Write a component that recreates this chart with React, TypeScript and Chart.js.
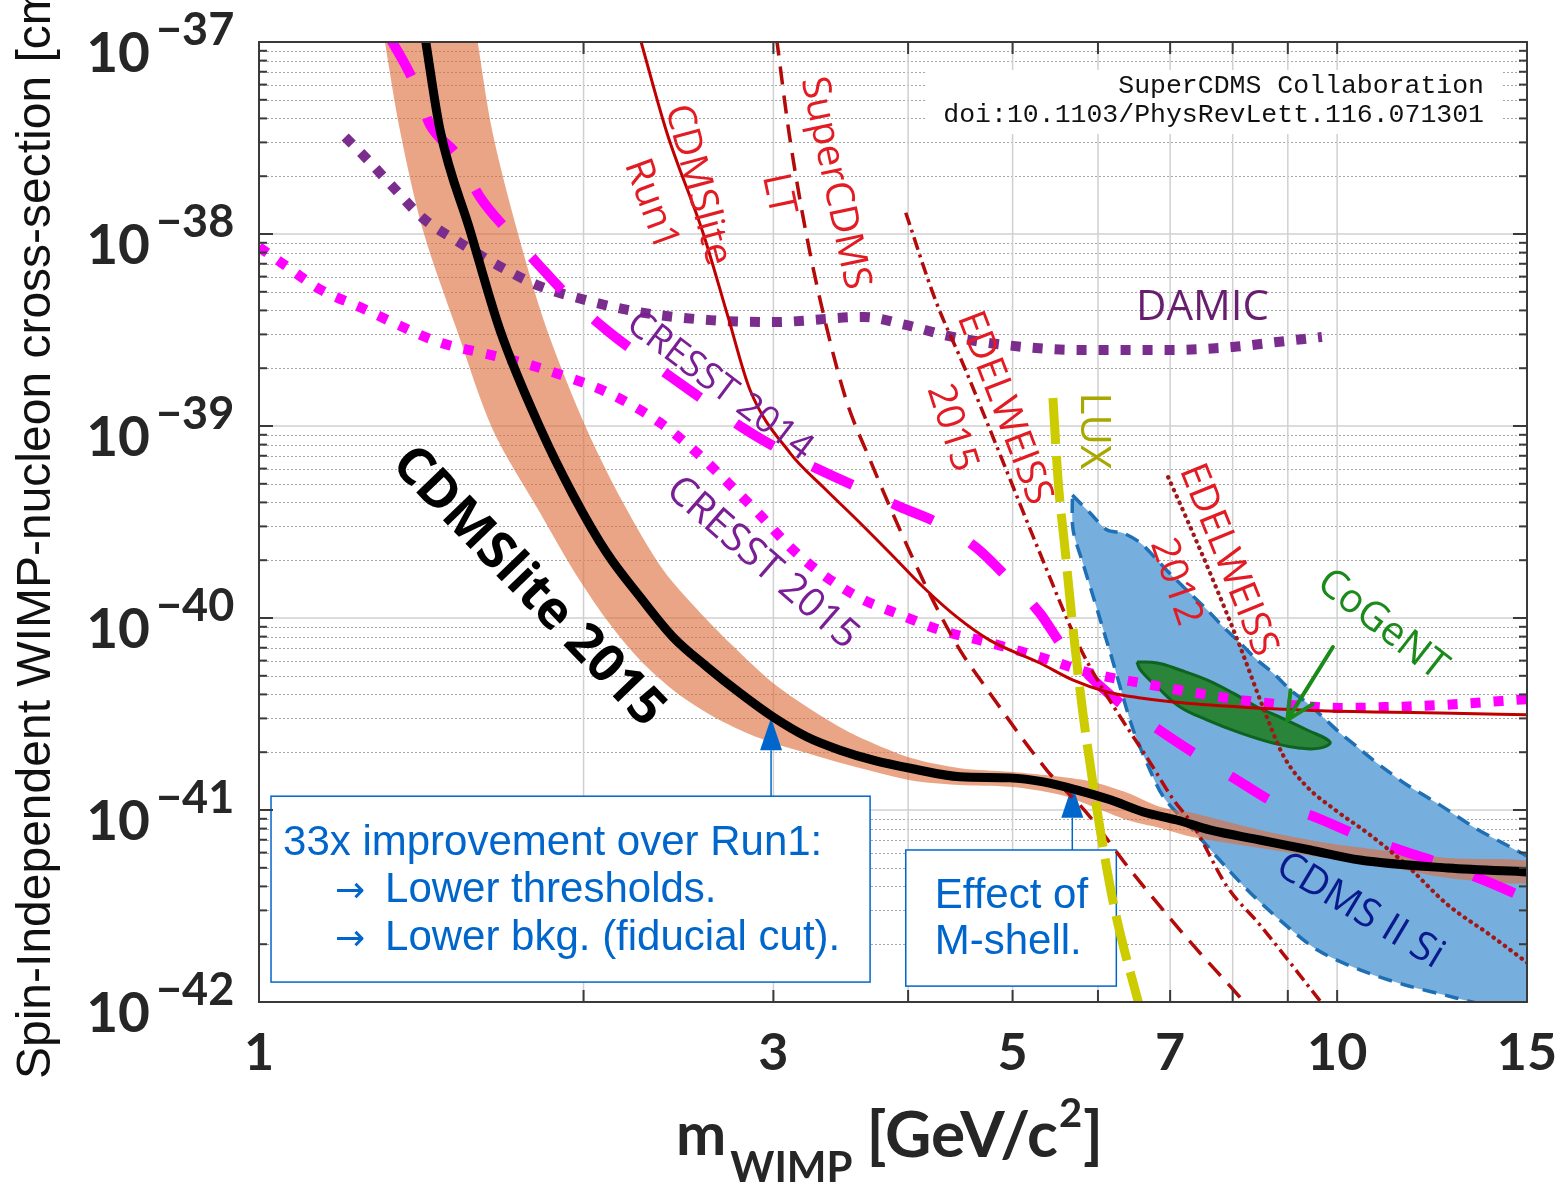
import React, { useEffect, useRef } from "react";
import { Chart, registerables } from "chart.js";

Chart.register(...registerables);

// ================= DATA =================
// x: WIMP mass [GeV/c^2], y: spin-independent WIMP-nucleon cross-section [cm^2]

const cdmslite2015Mass = [1.426, 1.472, 1.569, 1.673, 1.823, 1.956, 2.102, 2.256, 2.421, 2.604, 2.794, 2.998, 3.224, 3.459, 3.712, 4.018, 4.469, 4.97, 5.338, 5.74, 6.16, 6.61, 7.1, 7.62, 8.48, 9.44, 10.5, 12.67, 15.1];
const cdmslite2015Sigma = [1.05e-37, 3.48e-38, 1.05e-38, 3.16e-39, 9.76e-40, 4.37e-40, 2.18e-40, 1.29e-40, 7.96e-41, 5.56e-41, 4.06e-41, 3.05e-41, 2.4e-41, 2.05e-41, 1.82e-41, 1.65e-41, 1.49e-41, 1.47e-41, 1.4e-41, 1.27e-41, 1.13e-41, 9.76e-42, 8.87e-42, 7.87e-42, 6.98e-42, 6.19e-42, 5.49e-42, 4.99e-42, 4.75e-42];

const bandUpperMass = [1.589, 1.645, 1.735, 1.85, 2.015, 2.177, 2.371, 2.604, 2.794, 2.998, 3.224, 3.459, 3.649, 4.018, 4.469, 4.97, 5.534, 5.938, 6.387, 6.85, 7.35, 8.48, 9.79, 10.96, 12.67, 15.4];
const bandUpperSigma = [1.155e-37, 3.48e-38, 1.05e-38, 3.16e-39, 9.53e-40, 3.97e-40, 1.78e-40, 9.76e-41, 6.58e-41, 4.59e-41, 3.44e-41, 2.7e-41, 2.32e-41, 1.87e-41, 1.65e-41, 1.58e-41, 1.49e-41, 1.4e-41, 1.23e-41, 1.04e-41, 9.64e-42, 7.87e-42, 6.73e-42, 6.19e-42, 5.62e-42, 5.3e-42];
const bandLowerMass = [1.303, 1.351, 1.419, 1.526, 1.648, 1.823, 1.956, 2.102, 2.256, 2.421, 2.604, 2.794, 2.998, 3.224, 3.459, 4.018, 4.469, 4.97, 5.534, 5.938, 6.387, 6.85, 7.35, 8.48, 9.79, 10.96, 12.67, 15.4];
const bandLowerSigma = [1.155e-37, 3.48e-38, 1.05e-38, 3.16e-39, 9.53e-40, 3.52e-40, 1.78e-40, 9.76e-41, 6.04e-41, 4.22e-41, 3.2e-41, 2.61e-41, 2.23e-41, 1.98e-41, 1.76e-41, 1.43e-41, 1.35e-41, 1.32e-41, 1.2e-41, 1.04e-41, 8.87e-42, 8.06e-42, 7.23e-42, 6.34e-42, 5.62e-42, 5.17e-42, 4.43e-42, 4.2e-42];

const run1Mass = [2.256, 2.39, 2.582, 2.723, 2.854, 3.109, 3.336, 3.587, 3.848, 4.13, 4.44, 4.76, 5.3, 5.69, 6.12, 6.57, 7.05, 8.13, 9.38, 10.8, 12.46, 15.1];
const run1Sigma = [1.05e-37, 3.36e-38, 1.01e-38, 3.7e-39, 1.54e-39, 7.23e-40, 4.81e-40, 3.24e-40, 2.18e-40, 1.45e-40, 1.01e-40, 7.67e-41, 5.83e-41, 4.75e-41, 4.12e-41, 3.83e-41, 3.65e-41, 3.44e-41, 3.31e-41, 3.24e-41, 3.2e-41, 3.13e-41];

const superCdmsLtMass = [3.02, 3.102, 3.217, 3.343, 3.504, 3.688, 3.932, 4.193, 4.469, 4.69, 5.38, 5.86, 6.43, 7.24, 8.16, 8.4];
const superCdmsLtSigma = [1.05e-37, 3.36e-38, 1.01e-38, 3.7e-39, 1.37e-39, 6.65e-40, 2.87e-40, 1.32e-40, 6.8e-41, 4.59e-41, 1.61e-41, 9.64e-42, 4.87e-42, 2.18e-42, 1.03e-42, 8.5e-43];

const edelweiss2015Mass = [3.98, 4.24, 4.51, 4.87, 5.3, 5.77, 6.07, 6.71, 7.05, 7.35, 7.91, 8.48, 9.66, 9.96];
const edelweiss2015Sigma = [1.29e-38, 4.53e-39, 2.03e-39, 7.06e-40, 2.18e-40, 7.06e-41, 4.22e-41, 1.76e-41, 1.13e-41, 8.35e-42, 3.97e-42, 2.52e-42, 1.0e-42, 8.06e-43];

const edelweiss2012Mass = [6.97, 7.26, 7.67, 8.13, 8.52, 8.91, 9.34, 9.96, 10.73, 11.54, 12.67, 13.87, 15.1];
const edelweiss2012Sigma = [5.42e-40, 3.24e-40, 1.58e-40, 7.06e-41, 3.52e-41, 1.93e-41, 1.35e-41, 1.0e-41, 7.41e-42, 5.3e-42, 3.2e-42, 2.23e-42, 1.56e-42];

const luxMass = [5.45, 5.51, 5.59, 5.69, 5.81, 5.93, 6.05, 6.22, 6.54, 6.59];
const luxSigma = [1.4e-39, 5.23e-40, 2.34e-40, 8.66e-41, 3.2e-41, 1.43e-41, 6.98e-42, 3.01e-42, 1.0e-42, 8.56e-43];

const damicMass = [1.202, 1.249, 1.331, 1.419, 1.537, 1.663, 1.811, 1.976, 2.251, 2.621, 3.004, 3.64, 3.98, 4.4, 5.12, 5.75, 6.96, 8.01, 8.8, 9.68];
const damicSigma = [3.2e-38, 2.58e-38, 1.76e-38, 1.21e-38, 8.98e-39, 6.9e-39, 5.42e-39, 4.64e-39, 3.92e-39, 3.56e-39, 3.48e-39, 3.7e-39, 3.36e-39, 2.91e-39, 2.58e-39, 2.49e-39, 2.49e-39, 2.58e-39, 2.74e-39, 2.91e-39];

const cresst2014Mass = [1.323, 1.389, 1.441, 1.526, 1.603, 1.698, 1.811, 1.922, 2.117, 2.411, 2.582, 2.812, 3.023, 3.314, 3.587, 3.932, 4.26, 4.63, 4.94, 5.3, 5.57, 6.16, 6.9, 7.46, 8.08, 8.76, 9.58, 10.44, 11.44, 12.43, 13.66, 15.0];
const cresst2014Sigma = [1.05e-37, 6.34e-38, 3.7e-38, 2.58e-38, 1.56e-38, 1.05e-38, 7.06e-39, 4.93e-39, 3.05e-39, 1.8e-39, 1.37e-39, 9.76e-40, 7.67e-40, 5.9e-40, 4.81e-40, 3.79e-40, 3.13e-40, 2.32e-40, 1.63e-40, 1.06e-40, 7.06e-41, 3.97e-41, 2.52e-41, 1.89e-41, 1.43e-41, 1.09e-41, 9.1e-42, 7.41e-42, 6.19e-42, 5.3e-42, 4.32e-42, 3.45e-42];

const cresst2015Mass = [1.0, 1.05, 1.142, 1.241, 1.346, 1.466, 1.61, 1.758, 1.931, 2.102, 2.355, 2.549, 2.735, 2.916, 3.109, 3.336, 3.61, 3.932, 4.28, 4.73, 5.3, 5.9, 6.57, 7.3, 8.13, 9.05, 10.06, 11.2, 12.46, 15.1];
const cresst2015Sigma = [8.55e-39, 7.06e-39, 5.11e-39, 4.16e-39, 3.36e-39, 2.74e-39, 2.4e-39, 2.13e-39, 1.8e-39, 1.5e-39, 1.04e-39, 7.23e-40, 4.93e-40, 3.44e-40, 2.34e-40, 1.68e-40, 1.27e-40, 1.04e-40, 8.66e-41, 7.5e-41, 6.27e-41, 5.17e-41, 4.59e-41, 4.12e-41, 3.74e-41, 3.52e-41, 3.4e-41, 3.44e-41, 3.52e-41, 3.79e-41];

// CDMS II Si contour (closed)
const cdmsSiMass = [5.68, 5.9, 6.12, 6.33, 6.57, 6.81, 7.05, 7.3, 7.58, 7.84, 8.13, 8.43, 8.72, 9.05, 9.38, 9.7, 10.06, 10.44, 10.8, 11.2, 11.61, 12.46, 13.43, 14.47, 15.6, 16.45, 16.45, 14.17, 12.89, 11.54, 10.5, 9.58, 8.85, 8.31, 7.87, 7.35, 6.9, 6.66, 6.47, 6.33, 6.2, 6.07, 5.94, 5.81, 5.69, 5.68];
const cdmsSiSigma = [4.37e-40, 3.52e-40, 2.87e-40, 2.77e-40, 2.46e-40, 2.0e-40, 1.63e-40, 1.35e-40, 1.1e-40, 8.98e-41, 7.41e-41, 6.04e-41, 5.17e-41, 4.22e-41, 3.61e-41, 3.05e-41, 2.52e-41, 2.13e-41, 1.82e-41, 1.56e-41, 1.35e-41, 1.06e-41, 8.06e-42, 6.42e-42, 5.11e-42, 4.32e-42, 6.34e-43, 9.08e-43, 1.05e-42, 1.23e-42, 1.47e-42, 1.87e-42, 2.67e-42, 3.7e-42, 5.11e-42, 7.87e-42, 1.17e-41, 1.76e-41, 2.61e-41, 3.88e-41, 5.83e-41, 8.66e-41, 1.29e-40, 1.93e-40, 2.87e-40, 4.37e-40];

// CoGeNT contour (closed)
const cogentMass = [6.52, 6.81, 7.15, 7.58, 8.01, 8.43, 8.85, 9.38, 9.85, 9.64, 9.24, 8.72, 8.13, 7.58, 7.15, 6.81, 6.57, 6.52];
const cogentSigma = [5.9e-41, 5.83e-41, 5.36e-41, 4.75e-41, 4.06e-41, 3.44e-41, 3.05e-41, 2.61e-41, 2.26e-41, 2.1e-41, 2.1e-41, 2.23e-41, 2.52e-41, 2.94e-41, 3.44e-41, 4.37e-41, 5.36e-41, 5.9e-41];

// Axis ticks
const xTickValues = [1, 3, 5, 7, 10, 15];
const xTickLabels = ["1", "3", "5", "7", "10", "15"];
const xGridValues = [2, 3, 4, 5, 6, 7, 8, 9, 10];
const yDecadeExponents = [-37, -38, -39, -40, -41, -42];
const yMinorMantissas = [2, 3, 4, 5, 6, 7, 8, 9];

// ================= ANNOTATIONS =================
const RED = "#E31B23";
const BLUE = "#0066CC";

const curveLabels = [
  { text: "CDMSlite 2015", mass: 1.776, sigma: 1.45e-40, angle: 46, color: "#000000", font: "bold 52px 'Open Sans'" },
  { text: "CDMSlite", mass: 2.551, sigma: 1.8e-38, angle: 75, color: RED, font: "39px 'Open Sans'" },
  { text: "Run1", mass: 2.31, sigma: 1.42e-38, angle: 70, color: RED, font: "39px 'Open Sans'" },
  { text: "SuperCDMS", mass: 3.42, sigma: 1.84e-38, angle: 78, color: RED, font: "39px 'Open Sans'" },
  { text: "LT", mass: 3.03, sigma: 1.61e-38, angle: 78, color: RED, font: "39px 'Open Sans'" },
  { text: "EDELWEISS", mass: 4.91, sigma: 1.24e-39, angle: 69, color: RED, font: "39px 'Open Sans'" },
  { text: "2015", mass: 4.39, sigma: 9.76e-40, angle: 72, color: RED, font: "39px 'Open Sans'" },
  { text: "EDELWEISS", mass: 7.92, sigma: 2.0e-40, angle: 68, color: RED, font: "39px 'Open Sans'" },
  { text: "2012", mass: 7.08, sigma: 1.54e-40, angle: 71, color: RED, font: "39px 'Open Sans'" },
  { text: "LUX", mass: 5.94, sigma: 9.42e-40, angle: 90, color: "#A8A800", font: "42px 'Open Sans'" },
  { text: "DAMIC", mass: 7.5, sigma: 4.12e-39, angle: 0, color: "#681E6E", font: "42px 'Open Sans'" },
  { text: "CRESST 2014", mass: 2.674, sigma: 1.61e-39, angle: 37, color: "#7A1E96", font: "37px 'Open Sans'" },
  { text: "CRESST 2015", mass: 2.929, sigma: 1.93e-40, angle: 41, color: "#7A1E96", font: "40px 'Open Sans'" },
  { text: "CoGeNT", mass: 11.01, sigma: 9.2e-41, angle: 38, color: "#1A8A1A", font: "40px 'Open Sans'" },
  { text: "CDMS II Si", mass: 10.5, sigma: 2.98e-42, angle: 31, color: "#0A1A8C", font: "40px 'Open Sans'" },
];

const noteBoxes = [
  {
    x0: 1.026, x1: 3.688, yTop: 1.18e-41, yBottom: 1.27e-42,
    arrowMass: 2.985, arrowTip: 3.01e-41, headBase: 2.05e-41,
    lines: [
      { dx: 12, dy: 59, text: "33x improvement over Run1:", small: false },
      { dx: 64, dy: 106, text: "→", small: true },
      { dx: 114, dy: 106, text: "Lower thresholds.", small: false },
      { dx: 64, dy: 154, text: "→", small: true },
      { dx: 114, dy: 154, text: "Lower bkg. (fiducial cut).", small: false },
    ],
  },
  {
    x0: 3.98, x1: 6.24, yTop: 6.19e-42, yBottom: 1.21e-42,
    arrowMass: 5.68, arrowTip: 1.35e-41, headBase: 9.1e-42,
    lines: [
      { dx: 29, dy: 58, text: "Effect of", small: false },
      { dx: 29, dy: 104, text: "M-shell.", small: false },
    ],
  },
];

const cogentArrow = { fromMass: 9.91, fromSigma: 7.06e-41, toMass: 8.99, toSigma: 2.94e-41 };

// ================= HELPERS =================
const zip = (xs: number[], ys: number[]) => xs.map((x, i) => ({ x, y: ys[i] }));

const curve = (label: string, xs: number[], ys: number[], extra: any) => ({
  label,
  data: zip(xs, ys),
  pointRadius: 0,
  pointHoverRadius: 0,
  clip: 0,
  fill: false,
  cubicInterpolationMode: "monotone",
  borderCapStyle: "butt",
  ...extra,
});

const BAND_LABEL = "CDMSlite 2015 band";

const decorPlugin = {
  id: "decor",
  beforeDatasetsDraw(chart: any) {
    const { ctx, chartArea: a, scales } = chart;
    const xs = scales.x;
    const ys = scales.y;
    const X = (v: number) => xs.getPixelForValue(v);
    const Y = (v: number) => ys.getPixelForValue(v);
    ctx.save();
    const hline = (p: number) => {
      ctx.beginPath();
      ctx.moveTo(a.left, p);
      ctx.lineTo(a.right, p);
      ctx.stroke();
    };
    const seg = (x1: number, y1: number, x2: number, y2: number) => {
      ctx.beginPath();
      ctx.moveTo(x1, y1);
      ctx.lineTo(x2, y2);
      ctx.stroke();
    };
    // minor dotted horizontal lines
    ctx.lineWidth = 1;
    ctx.strokeStyle = "rgba(150,150,150,0.85)";
    ctx.setLineDash([2, 2]);
    for (let e = -42; e < -37; e++) {
      for (const m of yMinorMantissas) {
        hline(Math.round(Y(m * Math.pow(10, e))) + 0.5);
      }
    }
    ctx.setLineDash([]);
    // major horizontal lines
    ctx.strokeStyle = "rgb(208,208,208)";
    ctx.lineWidth = 1.5;
    for (const e of yDecadeExponents) hline(Y(Math.pow(10, e)));
    // vertical lines
    for (const v of xGridValues) seg(X(v), a.top, X(v), a.bottom);

    // citation box
    const bx0 = a.right - 601;
    const bx1 = a.right - 24;
    ctx.fillStyle = "#ffffff";
    ctx.fillRect(bx0, a.top + 28, bx1 - bx0, 64);
    ctx.fillStyle = "#111111";
    ctx.font = "26.5px 'Liberation Mono'";
    ctx.textAlign = "right";
    ctx.textBaseline = "alphabetic";
    ctx.fillText("SuperCDMS Collaboration", a.right - 43, a.top + 51);
    ctx.fillText("doi:10.1103/PhysRevLett.116.071301", a.right - 43, a.top + 80);

    // annotation boxes
    for (const b of noteBoxes) {
      const l = X(b.x0), r = X(b.x1), t = Y(b.yTop), bt = Y(b.yBottom);
      ctx.fillStyle = "#ffffff";
      ctx.fillRect(l, t, r - l, bt - t);
      ctx.strokeStyle = BLUE;
      ctx.lineWidth = 1.5;
      ctx.strokeRect(l, t, r - l, bt - t);
      ctx.fillStyle = BLUE;
      ctx.textAlign = "left";
      ctx.textBaseline = "alphabetic";
      for (const ln of b.lines) {
        ctx.font = ln.small ? "36px 'DejaVu Sans'" : "42px 'Liberation Sans'";
        ctx.fillText(ln.text, l + ln.dx, t + ln.dy);
      }
    }
    ctx.restore();
  },
  afterDatasetDraw(chart: any, args: any) {
    // arrows of the annotation boxes, drawn right after the uncertainty band
    if (!args || !args.meta || args.meta.label !== BAND_LABEL) return;
    const { ctx, scales } = chart;
    const X = (v: number) => scales.x.getPixelForValue(v);
    const Y = (v: number) => scales.y.getPixelForValue(v);
    ctx.save();
    for (const b of noteBoxes) {
      const t = Y(b.yTop);
      const ax = X(b.arrowMass);
      const tip = Y(b.arrowTip);
      const base = Y(b.headBase);
      ctx.strokeStyle = BLUE;
      ctx.lineWidth = 1.5;
      ctx.beginPath();
      ctx.moveTo(ax, t);
      ctx.lineTo(ax, base);
      ctx.stroke();
      ctx.fillStyle = BLUE;
      ctx.beginPath();
      ctx.moveTo(ax, tip);
      ctx.lineTo(ax - 11, base);
      ctx.lineTo(ax + 11, base);
      ctx.closePath();
      ctx.fill();
    }
    ctx.restore();
  },
  afterDatasetsDraw(chart: any) {
    const { ctx, chartArea: a, scales } = chart;
    const xs = scales.x;
    const ys = scales.y;
    const X = (v: number) => xs.getPixelForValue(v);
    const Y = (v: number) => ys.getPixelForValue(v);
    ctx.save();
    const seg = (x1: number, y1: number, x2: number, y2: number) => {
      ctx.beginPath();
      ctx.moveTo(x1, y1);
      ctx.lineTo(x2, y2);
      ctx.stroke();
    };

    // frame
    ctx.strokeStyle = "#3a3a3a";
    ctx.lineWidth = 2;
    ctx.strokeRect(a.left, a.top, a.right - a.left, a.bottom - a.top);
    for (const e of yDecadeExponents) {
      const p = Y(Math.pow(10, e));
      seg(a.left, p, a.left + 14, p);
      seg(a.right - 14, p, a.right, p);
    }
    for (let e = -42; e < -37; e++) {
      for (const m of yMinorMantissas) {
        const p = Y(m * Math.pow(10, e));
        seg(a.left, p, a.left + 8, p);
        seg(a.right - 8, p, a.right, p);
      }
    }
    for (const v of xGridValues) {
      const p = X(v);
      seg(p, a.top, p, a.top + 12);
      seg(p, a.bottom - 12, p, a.bottom);
    }

    // tick labels
    ctx.fillStyle = "#262626";
    ctx.textBaseline = "alphabetic";
    ctx.font = "bold 52px Lato";
    ctx.textAlign = "center";
    xTickValues.forEach((v, i) => ctx.fillText(xTickLabels[i], X(v), a.bottom + 68));
    for (const e of yDecadeExponents) {
      const p = Y(Math.pow(10, e));
      ctx.font = "bold 55px Lato";
      ctx.textAlign = "right";
      ctx.fillText("10", a.left - 109, p + 30);
      ctx.font = "bold 45px Lato";
      ctx.textAlign = "left";
      ctx.fillText("\u2212" + String(-e), a.left - 103, p + 3);
    }

    // x axis title
    ctx.fillStyle = "#262626";
    ctx.textAlign = "left";
    let cx = 676;
    ctx.font = "bold 60px Lato";
    ctx.fillText("m", cx, 1155);
    cx += ctx.measureText("m").width + 4;
    ctx.font = "bold 42px Lato";
    ctx.fillText("WIMP", cx, 1182);
    cx += ctx.measureText("WIMP").width + 14;
    ctx.font = "bold 64px Lato";
    ctx.fillText("[GeV/c", cx, 1157);
    cx += ctx.measureText("[GeV/c").width + 1;
    ctx.font = "bold 40px Lato";
    ctx.fillText("2", cx, 1127);
    cx += ctx.measureText("2").width + 1;
    ctx.font = "bold 64px Lato";
    ctx.fillText("]", cx, 1157);

    // y axis title
    ctx.save();
    ctx.translate(50, 1079);
    ctx.rotate(-Math.PI / 2);
    ctx.font = "48px 'Liberation Sans'";
    ctx.fillStyle = "#111111";
    ctx.textAlign = "left";
    ctx.fillText("Spin-Independent WIMP-nucleon cross-section [cm\u00B2]", 0, 0);
    ctx.restore();

    // curve labels
    for (const l of curveLabels) {
      ctx.save();
      ctx.translate(X(l.mass), Y(l.sigma));
      ctx.rotate((l.angle * Math.PI) / 180);
      ctx.font = l.font;
      ctx.fillStyle = l.color;
      ctx.textAlign = "center";
      ctx.textBaseline = "middle";
      ctx.fillText(l.text, 0, 0);
      ctx.restore();
    }

    // CoGeNT arrow
    {
      const x1 = X(cogentArrow.fromMass), y1 = Y(cogentArrow.fromSigma);
      const x2 = X(cogentArrow.toMass), y2 = Y(cogentArrow.toSigma);
      ctx.strokeStyle = "#1A8A1A";
      ctx.lineWidth = 4;
      ctx.lineCap = "round";
      seg(x1, y1, x2, y2);
      const ang = Math.atan2(y1 - y2, x1 - x2);
      const L = 30;
      seg(x2, y2, x2 + L * Math.cos(ang + 0.45), y2 + L * Math.sin(ang + 0.45));
      seg(x2, y2, x2 + L * Math.cos(ang - 0.45), y2 + L * Math.sin(ang - 0.45));
      ctx.lineCap = "butt";
    }
    ctx.restore();
  },
};

export default function App() {
  const ref = useRef<HTMLCanvasElement | null>(null);

  useEffect(() => {
    const canvas = ref.current;
    if (!canvas) return;

    const bandPolygon = [...zip(bandUpperMass, bandUpperSigma), ...zip(bandLowerMass, bandLowerSigma).reverse()];

    const datasets: any[] = [
      {
        label: "CDMS II Si",
        data: zip(cdmsSiMass, cdmsSiSigma),
        pointRadius: 0, clip: 0, tension: 0.3,
        fill: "shape",
        backgroundColor: "rgb(118,175,222)",
        borderColor: "#1F6FB5",
        borderWidth: 3.5,
        borderDash: [14, 9],
        order: 20,
      },
      {
        label: BAND_LABEL,
        data: bandPolygon,
        pointRadius: 0, clip: 0, tension: 0.3,
        fill: "shape",
        backgroundColor: "rgba(220,110,60,0.62)",
        borderWidth: 0,
        borderColor: "rgba(0,0,0,0)",
        order: 19,
      },
      {
        label: "CoGeNT",
        data: zip(cogentMass, cogentSigma),
        pointRadius: 0, clip: 0, tension: 0.4,
        fill: "shape",
        backgroundColor: "rgb(42,132,58)",
        borderColor: "rgb(12,100,32)",
        borderWidth: 3,
        order: 18,
      },
      curve("DAMIC", damicMass, damicSigma, { borderColor: "#7B2D8E", borderWidth: 10, borderDash: [10, 12], order: 17 }),
      curve("CRESST 2015", cresst2015Mass, cresst2015Sigma, { borderColor: "#FF00FF", borderWidth: 10, borderDash: [10, 13], order: 16 }),
      curve("CRESST 2014", cresst2014Mass, cresst2014Sigma, { borderColor: "#FF00FF", borderWidth: 10, borderDash: [44, 44], order: 15 }),
      curve("SuperCDMS LT", superCdmsLtMass, superCdmsLtSigma, { borderColor: "#B40A0A", borderWidth: 3.5, borderDash: [18, 11], order: 13 }),
      curve("EDELWEISS 2015", edelweiss2015Mass, edelweiss2015Sigma, { borderColor: "#B40A0A", borderWidth: 3.5, borderDash: [13, 5, 3, 5], order: 12 }),
      curve("EDELWEISS 2012", edelweiss2012Mass, edelweiss2012Sigma, { borderColor: "#A01818", borderWidth: 4.2, borderDash: [0.5, 6.5], borderCapStyle: "round", order: 11 }),
      curve("CDMSlite Run1", run1Mass, run1Sigma, { borderColor: "#C00000", borderWidth: 3, order: 9 }),
      curve("LUX", luxMass, luxSigma, { borderColor: "#CCCC00", borderWidth: 9, borderDash: [46, 12], order: 8 }),
      curve("CDMSlite 2015", cdmslite2015Mass, cdmslite2015Sigma, { borderColor: "#000000", borderWidth: 9, borderJoinStyle: "round", order: 0 }),
    ];

    const chart = new Chart(canvas, {
      type: "line",
      data: { datasets },
      options: {
        responsive: false,
        animation: false,
        devicePixelRatio: 1,
        events: [],
        layout: { padding: { left: 259, right: 38, top: 42, bottom: 186 } },
        elements: { point: { radius: 0 }, line: { capBezierPoints: false } },
        scales: {
          x: { type: "logarithmic", min: 1, max: 15, display: false },
          y: { type: "logarithmic", min: 1e-42, max: 1e-37, display: false },
        },
        plugins: { legend: { display: false }, tooltip: { enabled: false } },
      } as any,
      plugins: [decorPlugin as any],
    } as any);

    return () => chart.destroy();
  }, []);

  return (
    <div style={{ position: "fixed", left: 0, top: 0, width: 1565, height: 1188, background: "#ffffff" }}>
      <canvas ref={ref} width={1565} height={1188} style={{ display: "block", width: 1565, height: 1188 }} />
    </div>
  );
}
